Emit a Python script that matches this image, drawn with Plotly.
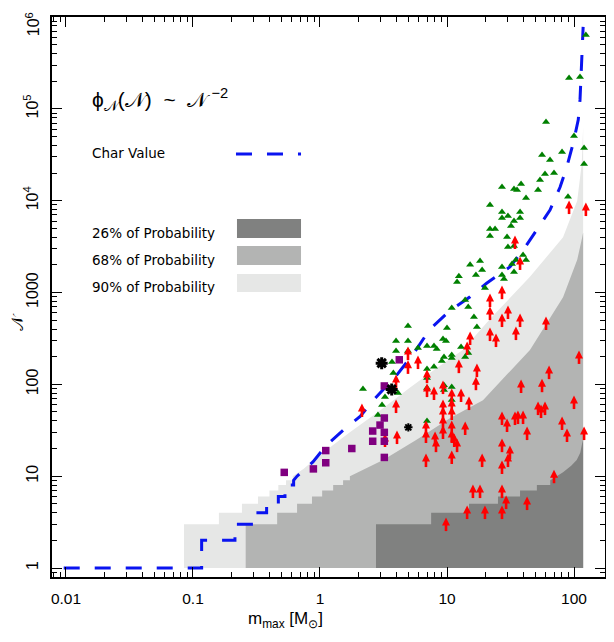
import plotly.graph_objects as go

# ---------------- data ----------------
# probability bands: staircase part (m where the upper bound steps up to N) + smooth part
light_step_m = [0.085, 0.16, 0.243, 0.325, 0.40, 0.47, 0.54, 0.61]
light_step_N = [3, 4, 5, 6, 7, 8, 9, 10]
light_curve_m = [0.74, 1.0, 1.72, 2.97, 5.0, 8.0, 13.3, 22, 45, 82, 106, 115, 118]
light_curve_N = [12, 17, 30, 52, 90, 145, 237, 520, 1480, 4000, 10000, 25000, 63000]

mid_step_m = [0.26, 0.46, 0.66, 0.865, 1.04, 1.27, 1.52, 1.72]
mid_step_N = [3, 4, 5, 6, 7, 8, 9, 10]
mid_curve_m = [3.14, 5.8, 10.6, 19.2, 30, 45, 82, 106, 116, 118]
mid_curve_N = [15, 25, 43, 67, 130, 237, 890, 2270, 4000, 4500]

dark_step_m = [2.76, 7.5, 14.9, 25.2, 37.6, 51, 65]
dark_step_N = [3, 4, 5, 6, 7, 8, 9]
dark_curve_m = [82, 95, 105, 112, 116, 118]
dark_curve_N = [11, 13, 15, 18, 23, 25]

# characteristic value (dashed)
char_step_m = [0.0096, 0.117, 0.214, 0.31, 0.38, 0.47, 0.53, 0.58, 0.62]
char_step_N = [1, 2, 3, 4, 5, 6, 7, 8, 9]
char_curve_m = [0.66, 0.88, 1.13, 1.52, 2.07, 2.63, 4.0, 5.5, 7.35, 10.5, 15.2, 20.5,
                31.3, 39.8, 50.8, 64.7, 77.6, 87.5, 98.9, 108, 111.5, 118]
char_curve_N = [10, 14.3, 21.9, 31.6, 44.7, 67, 125, 220, 400, 630, 900, 1260,
                1900, 2900, 4800, 7900, 14000, 23000, 43000, 76000, 125000, 780000]

# green triangles
tri_m = [124, 91.4, 111.5, 60.2, 100, 120, 80.5, 56, 64.7, 120, 69.6, 59.1, 54, 27.1, 38.3,
         33.7, 35.6, 52.1, 41.9, 89.7, 21.8, 27.1, 37.6, 27.1, 30.2, 37.6, 33.7, 31.9, 21.8,
         23.9, 21.8, 29.7, 30.2, 33.7, 39.7, 41.9, 34.9, 32.5, 27.1, 33.7, 15.2, 18.2, 16.9,
         18.9, 12.4, 12.0, 27.1, 28.1, 19.9, 13.9, 10.9, 14.7, 16.3, 17.2, 10.0, 4.93, 3.97,
         4.93, 3.97, 5.91, 6.96, 7.9, 9.3, 9.82, 8.3, 12.9, 14.7, 10.9, 9.47, 9.1, 10.9, 13.9,
         6.96, 7.9, 4.93, 3.69, 6.96, 6.96, 9.47, 10.9, 9.47, 10.9, 2.18, 3.78, 3.25, 3.08,
         4.11, 2.86, 6.96]
tri_N = [637000, 217000, 222000, 71900, 50600, 37500, 33900, 31400, 27700, 25000, 20000,
         19500, 16800, 14100, 15200, 13400, 13100, 13100, 10700, 11000, 8970, 7530, 7530,
         6470, 6810, 6470, 6010, 5300, 4920, 4920, 4120, 4020, 3130, 3210, 2560, 2260, 2260,
         2040, 1900, 1670, 2000, 2200, 1550, 1760, 1500, 1300, 1550, 1400, 1120, 829, 680,
         695, 541, 421, 411, 432, 297, 297, 231, 249, 262, 262, 312, 297, 243, 255, 219, 209,
         199, 180, 194, 199, 147, 155, 231, 175, 117, 91, 98, 93.5, 86.7, 67.5, 89, 133,
         72.8, 59.6, 80.5, 46.4, 39.9]

# red lower limits (arrows)
arr_m = [91.4, 124, 34.3, 37.6, 21.8, 27.1, 21.8, 27.1, 30.2, 37.6, 60.2, 21.8, 24.3, 34.9,
         15.2, 14.4, 4.93, 4.93, 5.91, 12.4, 17.2, 16.9, 109.5, 63.6, 38.3, 56, 3.97, 6.96,
         6.96, 7.9, 9.3, 10.9, 12.9, 14.9, 3.97, 2.14, 9.3, 9.3, 10.9, 10.9, 100, 52.1, 59.1,
         55, 27.1, 29.7, 34.3, 36.2, 39.7, 42.7, 80.5, 88.1, 120, 9.3, 9.3, 6.83, 6.83, 8.05,
         8.19, 10.9, 10.9, 11.4, 12, 13.9, 4.04, 3.25, 6.83, 10.9, 18.9, 27.1, 31.3, 30.2,
         27.1, 69.6, 16, 18.2, 27.1, 29.2, 42.7, 14.4, 19.9, 27.1, 9.82]
arr_N = [8530, 8110, 3550, 2100, 829, 1010, 598, 502, 614, 502, 466, 353, 304, 362, 320,
         249, 219, 155, 175, 158, 143, 103, 199, 136, 96, 98, 109, 123, 86.7, 80.5, 93.5,
         76.6, 76.6, 62.6, 58.1, 52.6, 58.1, 48.8, 59.6, 48.8, 64.2, 55.2, 55.2, 51.3, 43,
         36.1, 43, 44.1, 44.1, 29.5, 38, 28.1, 29.5, 38.9, 30.3, 34.3, 27.4, 26, 21.8, 34.3,
         27.4, 24.8, 21.8, 33.5, 26.7, 24.8, 15, 16.2, 15, 21.8, 18.3, 15, 12.6, 10, 6.89,
         6.89, 6.89, 5.23, 5.1, 4.07, 4.07, 4.07, 3.01]

# purple squares
sq_m = [0.523, 0.887, 1.11, 1.11, 1.78, 2.6, 2.6, 2.97, 3.21, 3.21, 3.21, 3.21, 3.21, 4.21]
sq_N = [11, 12, 19, 14, 20, 31, 24, 36, 43, 30, 24, 16, 96, 185]

# black asterisks
star_big_m = [3.06, 3.67]
star_big_N = [170, 88]
star_small_m = [4.96]
star_small_N = [34]

# axis ticks
x_tickvals = [0.01, 0.1, 1, 10, 100]
x_ticktext = ["0.01", "0.1", "1", "10", "100"]
y_tickvals = [1, 10, 100, 1000, 1e4, 1e5]
y_ticktext = ["1", "10", "100", "1000", "10<sup>4</sup>", "10<sup>5</sup>"]
y_top_label = "10<sup>6</sup>"   # label of the top decade (1e6), which sits on the frame

# ---------------- helpers ----------------
def band_polygon(step_m, step_N, curve_m, curve_N, base=1.0):
    xs = [step_m[0]]
    ys = [base]
    prev = base
    for m, n in zip(step_m, step_N):
        xs += [m, m]
        ys += [prev, n]
        prev = n
    xs += list(curve_m)
    ys += list(curve_N)
    xs += [curve_m[-1], step_m[0]]
    ys += [base, base]
    return xs, ys


def staircase(step_m, step_N, curve_m, curve_N):
    xs = [step_m[0]]
    ys = [step_N[0]]
    for i in range(1, len(step_m)):
        xs += [step_m[i], step_m[i]]
        ys += [step_N[i - 1], step_N[i]]
    xs += list(curve_m)
    ys += list(curve_N)
    return xs, ys


LIGHT = "#e6e7e6"
MID = "#b3b4b3"
DARK = "#808180"
BLUE = "#0a14f0"
RED = "#ff0000"
FONT = "Liberation Sans, Arial, sans-serif"
LFONT = "DejaVu Sans, sans-serif"

fig = go.Figure()
for (sm, sn, cm, cn, col) in [
    (light_step_m, light_step_N, light_curve_m, light_curve_N, LIGHT),
    (mid_step_m, mid_step_N, mid_curve_m, mid_curve_N, MID),
    (dark_step_m, dark_step_N, dark_curve_m, dark_curve_N, DARK),
]:
    px_, py_ = band_polygon(sm, sn, cm, cn)
    fig.add_trace(go.Scatter(x=px_, y=py_, mode="lines", fill="toself", fillcolor=col,
                             line=dict(width=0, color=col), hoverinfo="skip", showlegend=False))

cx, cy = staircase(char_step_m, char_step_N, char_curve_m, char_curve_N)
fig.add_trace(go.Scatter(x=cx, y=cy, mode="lines",
                         line=dict(color=BLUE, width=3, dash="16px,15px"), showlegend=False))

fig.add_trace(go.Scatter(x=tri_m, y=tri_N, mode="markers",
                         marker=dict(symbol="triangle-up", size=7, color="#008000"),
                         showlegend=False))
# red lower limits: shaft + arrow head markers
fig.add_trace(go.Scatter(x=arr_m, y=arr_N, mode="markers",
                         marker=dict(symbol="line-ns", size=6.5, standoff=2.5, angle=0,
                                     color=RED, line=dict(color=RED, width=2.6)),
                         showlegend=False))
fig.add_trace(go.Scatter(x=arr_m, y=arr_N, mode="markers",
                         marker=dict(symbol="arrow-down", size=8, angle=180, standoff=6.5,
                                     color=RED, line=dict(width=0)),
                         showlegend=False))
fig.add_trace(go.Scatter(x=sq_m, y=sq_N, mode="markers",
                         marker=dict(symbol="square", size=7.5, color="#800080"),
                         showlegend=False))
fig.add_trace(go.Scatter(x=star_big_m, y=star_big_N, mode="markers",
                         marker=dict(symbol="asterisk-open", size=10, color="black",
                                     line=dict(color="black", width=3)),
                         showlegend=False))
fig.add_trace(go.Scatter(x=star_small_m, y=star_small_N, mode="markers",
                         marker=dict(symbol="asterisk-open", size=7, color="black",
                                     line=dict(color="black", width=2)),
                         showlegend=False))

annotations = [
    dict(x=0.0687, y=0.852, xref="paper", yref="paper", xanchor="left", yanchor="middle",
         text="ϕ<sub>𝒩</sub>(𝒩)  ~  𝒩<sup> −2</sup>", showarrow=False,
         font=dict(size=21, color="black", family=FONT)),
    dict(x=0.0687, y=0.757, xref="paper", yref="paper", xanchor="left", yanchor="middle",
         text="Char Value", showarrow=False, font=dict(size=13.5, color="black", family=LFONT)),
    dict(x=0.0687, y=0.6143, xref="paper", yref="paper", xanchor="left", yanchor="middle",
         text="26% of Probability", showarrow=False, font=dict(size=13.5, color="black", family=LFONT)),
    dict(x=0.0687, y=0.566, xref="paper", yref="paper", xanchor="left", yanchor="middle",
         text="68% of Probability", showarrow=False, font=dict(size=13.5, color="black", family=LFONT)),
    dict(x=0.0687, y=0.5179, xref="paper", yref="paper", xanchor="left", yanchor="middle",
         text="90% of Probability", showarrow=False, font=dict(size=13.5, color="black", family=LFONT)),
    dict(x=0.423, y=-0.077, xref="paper", yref="paper", xanchor="center", yanchor="middle",
         text="m<sub>max</sub> [M<sub>⊙</sub>]", showarrow=False,
         font=dict(size=17, color="black", family=FONT)),
    dict(x=-0.0624, y=0.457, xref="paper", yref="paper", xanchor="center", yanchor="middle",
         text="𝒩", textangle=-90, showarrow=False,
         font=dict(size=16, color="black", family=FONT)),
    # top y tick label, kept inside the page
    dict(x=-0.0344, y=1.012, xref="paper", yref="paper", xanchor="center", yanchor="top",
         text=y_top_label, textangle=-90, showarrow=False,
         font=dict(size=16, color="black", family=FONT)),
]

shapes = [
    dict(type="line", xref="paper", yref="paper", x0=0.3327, x1=0.4503, y0=0.7554, y1=0.7554,
         line=dict(color=BLUE, width=3, dash="16px,15px")),
    dict(type="rect", xref="paper", yref="paper", x0=0.3345, x1=0.4503, y0=0.6054, y1=0.6393,
         fillcolor=DARK, line=dict(width=0)),
    dict(type="rect", xref="paper", yref="paper", x0=0.3345, x1=0.4503, y0=0.5571, y1=0.5911,
         fillcolor=MID, line=dict(width=0)),
    dict(type="rect", xref="paper", yref="paper", x0=0.3345, x1=0.4503, y0=0.5089, y1=0.5411,
         fillcolor=LIGHT, line=dict(width=0)),
]

x_minor = [d * 10.0 ** k for k in range(-3, 3) for d in range(2, 10)]
y_minor = [0.9] + [d * 10.0 ** k for k in range(0, 6) for d in range(2, 10)]

axis_common = dict(showgrid=False, zeroline=False, showline=True, linecolor="black",
                   linewidth=2, mirror="allticks", ticks="inside", ticklen=10, tickwidth=1.3,
                   tickcolor="black", automargin=False, ticklabeloverflow="allow")

fig.update_xaxes(type="log", range=[-2.11, 2.244], tickmode="array", tickvals=x_tickvals,
                 ticktext=x_ticktext, ticklabelstandoff=6,
                 tickfont=dict(size=15.5, color="black", family=FONT),
                 minor=dict(tickmode="array", tickvals=x_minor, ticks="inside", ticklen=5,
                            tickwidth=1.1, tickcolor="black", showgrid=False),
                 **axis_common)
fig.update_yaxes(type="log", range=[-0.098, 6.0], tickmode="array", tickvals=y_tickvals,
                 ticktext=y_ticktext, tickangle=-90, ticklabelstandoff=6,
                 tickfont=dict(size=16, color="black", family=FONT),
                 minor=dict(tickmode="array", tickvals=y_minor, ticks="inside", ticklen=5,
                            tickwidth=1.1, tickcolor="black", showgrid=False),
                 **axis_common)

# the page body adds an 8px offset, margins compensate for it
fig.update_layout(width=614, height=642, margin=dict(l=44, r=17, t=9, b=73),
                  paper_bgcolor="white", plot_bgcolor="white",
                  annotations=annotations, shapes=shapes, showlegend=False,
                  font=dict(family=FONT, color="black"))

fig.write_html("out.html")
